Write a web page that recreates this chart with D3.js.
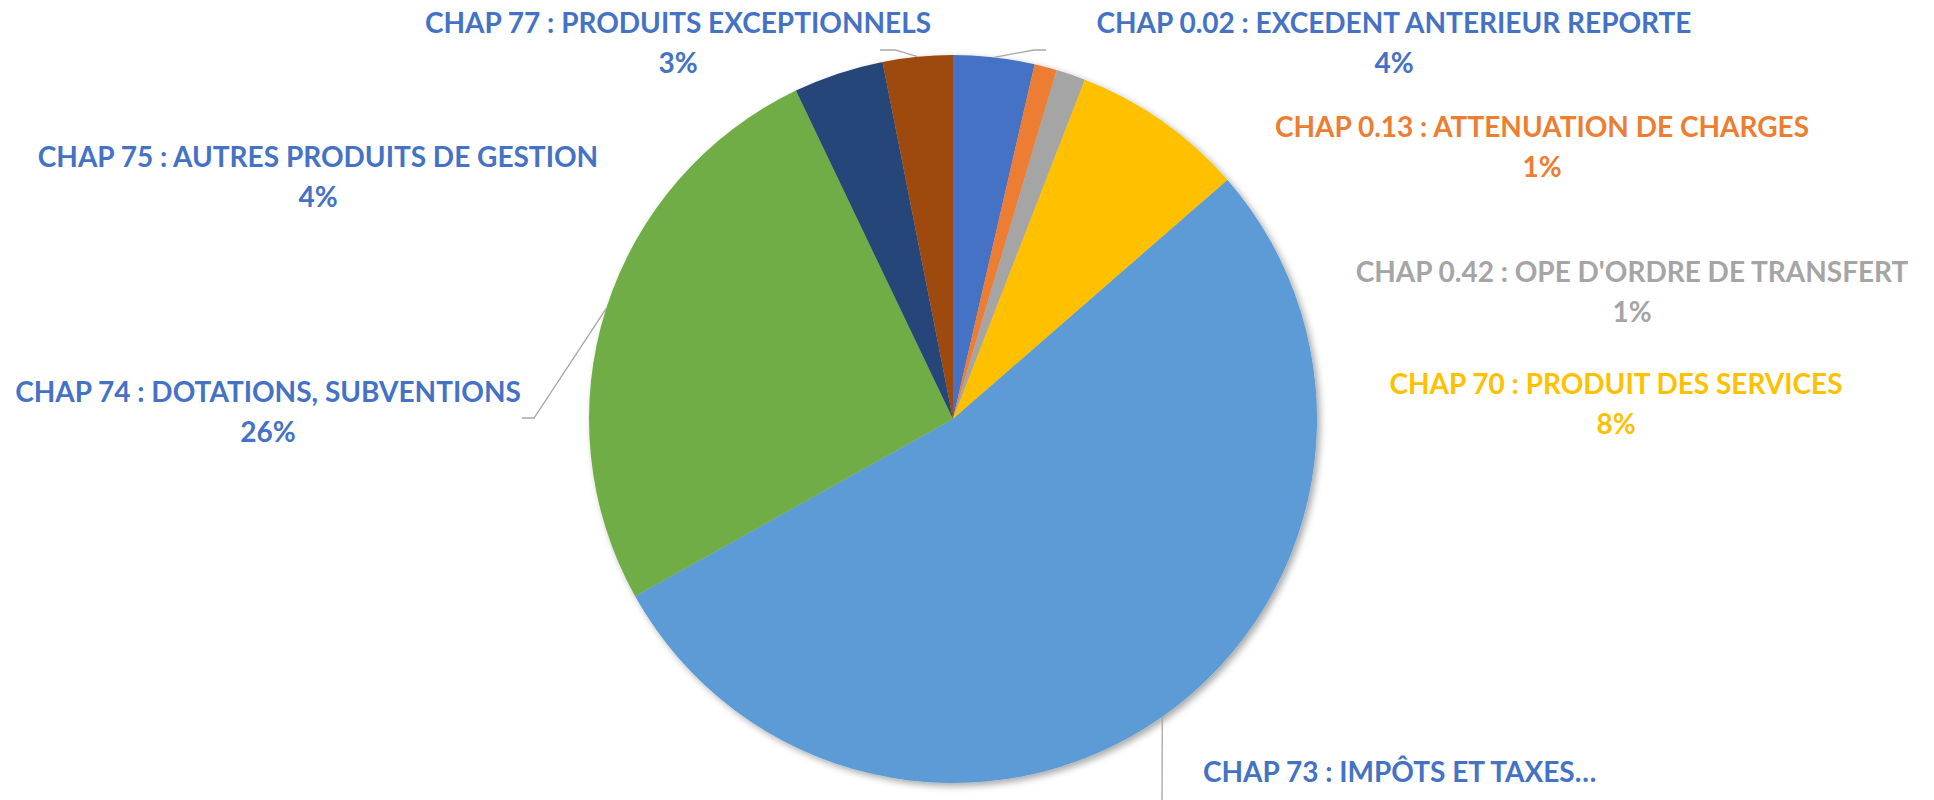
<!DOCTYPE html>
<html>
<head>
<meta charset="utf-8">
<script src="https://cdn.jsdelivr.net/npm/d3@7"></script>
<style>
  html, body { margin: 0; padding: 0; background: #fff; }
  #chart svg { display: block; }
</style>
</head>
<body>
<div id="chart"></div>
<script>
(function () {

  // data, clockwise from 12 o'clock
  const categories = [
    "CHAP 0.02 : EXCEDENT ANTERIEUR REPORTE",
    "CHAP 0.13 : ATTENUATION DE CHARGES",
    "CHAP 0.42 : OPE D'ORDRE DE TRANSFERT",
    "CHAP 70 : PRODUIT DES SERVICES",
    "CHAP 73 : IMPÔTS ET TAXES…",
    "CHAP 74 : DOTATIONS, SUBVENTIONS",
    "CHAP 75 : AUTRES PRODUITS DE GESTION",
    "CHAP 77 : PRODUITS EXCEPTIONNELS"
  ]
  const values = [3.6, 1.0, 1.3, 7.7, 53.3, 26.0, 4.0, 3.1]

  const sliceColors = ['#4472C4', '#ED7D31', '#A5A5A5', '#FFC000', '#5B9BD5', '#70AD47', '#264478', '#9E480E']
  const labelColors = ['#4472C4', '#ED7D31', '#A5A5A5', '#FFC000', '#4472C4', '#4472C4', '#4472C4', '#4472C4']

  // where each data label sits (baseline of first line) + leader line bends
  // the 73 label runs off the bottom of the frame, so its % line isn't shown
  const labelLayout = [
    { x: 1394, y: 33, anchor: 'middle', leader: [[1034, 50], [1046, 50]] },
    { x: 1542, y: 137, anchor: 'middle' },
    { x: 1632, y: 282, anchor: 'middle' },
    { x: 1616, y: 394, anchor: 'middle' },
    { x: 1203, y: 782, anchor: 'start', leader: [[1162, 810]], noPct: true },
    { x: 268, y: 402, anchor: 'middle', leader: [[534, 418], [522, 418]] },
    { x: 318, y: 167, anchor: 'middle' },
    { x: 678, y: 33, anchor: 'middle', leader: [[895, 50], [880, 50]] }
  ]

  const width = 1934
  const height = 800
  const cx = 953
  const cy = 419
  const radius = 364

  const svg = d3.select("#chart").append("svg")
      .attr("width", width)
      .attr("height", height)

  const defs = svg.append("defs")
  const shadow = defs.append("filter")
      .attr("id", "shadow")
      .attr("x", "-10%").attr("y", "-10%")
      .attr("width", "120%").attr("height", "120%")
  shadow.append("feDropShadow")
      .attr("dx", 3)
      .attr("dy", 3)
      .attr("stdDeviation", 3.5)
      .attr("flood-color", "#000")
      .attr("flood-opacity", 0.35)

  const total = d3.sum(values)
  const rows = values.map((v, i) => ({
    name: categories[i],
    value: v,
    color: sliceColors[i],
    labelColor: labelColors[i],
    pos: labelLayout[i]
  }))

  const pie = d3.pie()
    .sort(null)
    .value(d => d.value)

  const arc = d3.arc()
    .innerRadius(0)
    .outerRadius(radius)

  // point on the rim, used as start of leader lines
  const rimArc = d3.arc()
    .innerRadius(radius)
    .outerRadius(radius)

  const arcs = pie(rows)

  const pieG = svg.append("g")
      .attr("transform", "translate(" + cx + "," + cy + ")")
      .attr("filter", "url(#shadow)")

  pieG.selectAll("path")
    .data(arcs)
    .join("path")
    .attr("d", arc)
    .attr("fill", d => d.data.color)

  // leader lines
  const line = d3.line()
  svg.append("g")
    .selectAll("path")
    .data(arcs.filter(d => d.data.pos.leader))
    .join("path")
    .attr("d", d => {
      const c = rimArc.centroid(d)
      return line([[cx + c[0], cy + c[1]]].concat(d.data.pos.leader))
    })
    .attr("fill", "none")
    .attr("stroke", "#A6A6A6")
    .attr("stroke-width", 1.3)

  const pct = d3.format(".0%")

  const labels = svg.append("g")
    .attr("font-family", "Lato, 'Open Sans', sans-serif")
    .attr("font-weight", "bold")
    .attr("font-size", 28)
    .selectAll("text")
    .data(rows)
    .join("text")
    .attr("fill", d => d.labelColor)
    .attr("text-anchor", d => d.pos.anchor)

  labels.append("tspan")
    .attr("x", d => d.pos.x)
    .attr("y", d => d.pos.y)
    .text(d => d.name)

  labels.filter(d => !d.pos.noPct)
    .append("tspan")
    .attr("x", d => d.pos.x)
    .attr("y", d => d.pos.y + 40)
    .text(d => pct(d.value / total))

})();
</script>
</body>
</html>
